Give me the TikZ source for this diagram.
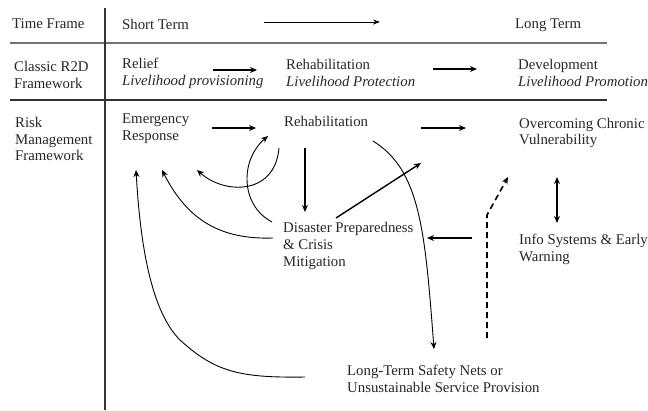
\documentclass[tikz,border=0pt]{standalone}
\usepackage{fontspec}
\setmainfont{Liberation Serif}
\usetikzlibrary{arrows.meta}
\begin{document}
\begin{tikzpicture}[x=1pt,y=-1pt,
  lbl/.style={anchor=west,inner sep=0pt,align=left,text=black!85,font=\fontsize{14.8}{16.8}\selectfont},
  rule/.style={line width=1.3pt,draw=black!80},
  thick arr/.style={line width=1.4pt,-{Stealth[length=7pt,width=6pt]}},
  thin arr/.style={line width=0.9pt,-{Stealth[length=7pt,width=6pt]}},
  dash arr/.style={line width=1.6pt,dash pattern=on 6pt off 4pt,-{Stealth[length=7pt,width=6pt]}}]
\useasboundingbox (0,0) rectangle (648,410);
% grid lines
\draw[rule,draw=black!55] (10,43) -- (607,43);
\draw[rule] (10,100) -- (607,100);
\draw[rule] (105,8) -- (105,410);
% row 1
\node[lbl] (tf) at (12,24) {Time Frame};
\node[lbl] (st) at (122,24) {Short Term};
\node[lbl] (lt) at (515,25) {Long Term};
% row 2
\node[lbl] (cr) at (14,75) {Classic R2D\\Framework};
\node[lbl] (relief) at (122,73) {Relief\\\textit{Livelihood provisioning}};
\node[lbl] (rehabA) at (286,73) {Rehabilitation\\\textit{Livelihood Protection}};
\node[lbl] (dev) at (518,73) {Development\\\textit{Livelihood Promotion}};
% row 3
\node[lbl] (rmf) at (15,139) {Risk\\Management\\Framework};
\node[lbl] (er) at (122,129) {Emergency\\Response};
\node[lbl] (rehabB) at (284,121) {Rehabilitation};
\node[lbl] (ocv) at (519,133) {Overcoming Chronic\\Vulnerability};
\node[lbl] (dp) at (283,246) {Disaster Preparedness\\\& Crisis\\Mitigation};
\node[lbl] (info) at (519,249) {Info Systems \& Early\\Warning};
\node[lbl] (ltsn) at (347,379) {Long-Term Safety Nets or\\Unsustainable Service Provision};
% coordinates
\coordinate (t1) at (264,22); \coordinate (t2) at (380,22);
\coordinate (r1) at (213,70); \coordinate (r2) at (257,70);
\coordinate (r3) at (433,69); \coordinate (r4) at (477,69);
\coordinate (m1) at (212,128); \coordinate (m2) at (256,128);
\coordinate (m3) at (421,128); \coordinate (m4) at (466,128);
\coordinate (d1) at (305,148); \coordinate (d2) at (305,212);
\coordinate (g1) at (336,218); \coordinate (g2) at (421,163);
\coordinate (v1) at (557,177); \coordinate (v2) at (557,223);
\coordinate (h1) at (472,238); \coordinate (h2) at (427,238);
\coordinate (q1) at (487,338); \coordinate (q2) at (487,215); \coordinate (q3) at (508,177);
\coordinate (c3a) at (273,238); \coordinate (c3b) at (162,170);
\coordinate (c4a) at (272,222); \coordinate (c4b) at (268,136);
\coordinate (c5a) at (279,148); \coordinate (c5b) at (197,170);
\coordinate (c6a) at (305,377); \coordinate (c6m) at (180,340); \coordinate (c6b) at (136,170);
\coordinate (c7a) at (373,141); \coordinate (c7b) at (434,349);
% arrows
\draw[line width=0.9pt,-{Stealth[length=7pt,width=5pt]}] (t1) -- (t2);
\draw[thick arr] (r1) -- (r2);
\draw[thick arr] (r3) -- (r4);
\draw[thick arr] (m1) -- (m2);
\draw[thick arr] (m3) -- (m4);
\draw[thick arr] (d1) -- (d2);
\draw[thick arr] (g1) -- (g2);
\draw[thick arr,{Stealth[length=7pt,width=6pt]}-{Stealth[length=7pt,width=6pt]}] (v1) -- (v2);
\draw[thick arr] (h1) -- (h2);
\draw[dash arr] (q1) -- (q2) -- (q3);
\draw[thin arr] (c3a) .. controls (215,240) and (185,215) .. (c3b);
\draw[thin arr] (c4a) .. controls (240,205) and (240,160) .. (c4b);
\draw[thin arr] (c5a) .. controls (275,195) and (225,195) .. (c5b);
\draw[thin arr] (c6a) .. controls (240,378) and (215,372) .. (c6m) .. controls (150,310) and (140,240) .. (c6b);
\draw[thin arr] (c7a) .. controls (420,170) and (425,230) .. (c7b);
\end{tikzpicture}
\end{document}
